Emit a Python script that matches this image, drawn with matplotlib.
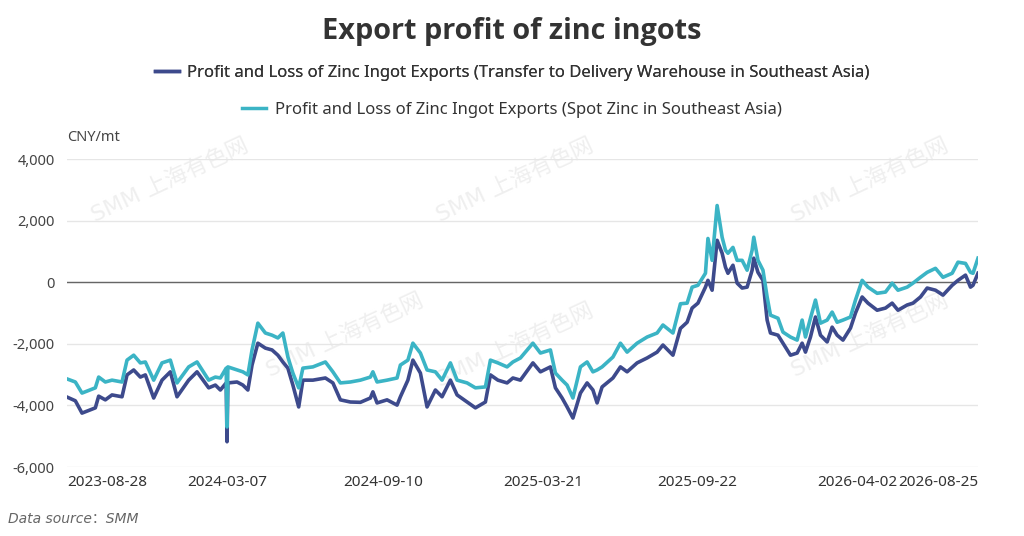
import pandas as pd
import matplotlib
matplotlib.use("Agg")
import matplotlib.pyplot as plt
from matplotlib.lines import Line2D
from matplotlib.ticker import FuncFormatter

plt.rcParams['font.family'] = ['Noto Sans', 'DejaVu Sans', 'Noto Sans CJK SC']

# days since 2023-08-28 for each sampled point
start_date = "2023-08-28"
day_offsets = [0, 10, 18, 34, 38, 46, 54, 66, 72, 80, 88, 94, 104, 114, 124, 132, 146, 156,
               170, 178, 184, 191, 192, 193, 204, 211, 217, 222, 229, 238, 246, 253, 259, 265,
               271, 278, 283, 295, 310, 319, 328, 340, 352, 364, 367, 372, 384, 396, 400, 409,
               415, 424, 432, 442, 450, 460, 468, 480, 490, 502, 508, 517, 528, 535, 544, 559,
               568, 580, 586, 594, 600, 607, 616, 624, 631, 636, 642, 655, 664, 672, 684, 696,
               708, 715, 727, 736, 744, 750, 757, 766, 769, 774, 780, 786, 790, 793, 799, 804,
               810, 816, 822, 824, 829, 835, 840, 844, 853, 859, 868, 876, 882, 886, 892, 898,
               904, 912, 918, 924, 931, 940, 946, 954, 961, 972, 982, 990, 997, 1008, 1015, 1024,
               1032, 1042, 1051, 1062, 1069, 1078, 1084, 1087, 1093]

warehouse = [-3730, -3850, -4250, -4080, -3700, -3820, -3660, -3720, -3010, -2850, -3080, -3010,
             -3760, -3180, -2910, -3720, -3180, -2910, -3430, -3340, -3500, -3270, -5180, -3270,
             -3240, -3340, -3500, -2690, -1980, -2140, -2200, -2370, -2590, -2790, -3340, -4050,
             -3180, -3180, -3110, -3270, -3820, -3890, -3900, -3760, -3560, -3920, -3820, -3990,
             -3720, -3180, -2530, -2950, -4050, -3500, -3720, -3180, -3660, -3890, -4080, -3890,
             -3010, -3180, -3270, -3110, -3180, -2620, -2910, -2750, -3430, -3760, -4050, -4410,
             -3600, -3270, -3500, -3920, -3400, -3110, -2750, -2910, -2620, -2460, -2270, -2040,
             -2370, -1500, -1300, -840, -680, -160, 60, -260, 1360, 940, 490, 290, 550, -30,
             -190, -160, 390, 780, 320, 60, -1230, -1650, -1720, -1980, -2370, -2300, -1980, -2270,
             -1780, -1130, -1720, -1940, -1460, -1720, -1880, -1490, -1000, -480, -680, -910,
             -840, -680, -910, -740, -680, -480, -190, -260, -420, -100, 60, 230, -160, -100, 290]

spot = [-3140, -3240, -3600, -3430, -3080, -3240, -3180, -3240, -2530, -2370, -2620, -2590,
        -3180, -2620, -2530, -3270, -2750, -2590, -3180, -3080, -3110, -2790, -4700, -2750,
        -2850, -2910, -3010, -2200, -1330, -1650, -1720, -1810, -1650, -2430, -2950, -3430,
        -2790, -2750, -2590, -2910, -3270, -3240, -3180, -3080, -2910, -3240, -3180, -3110,
        -2690, -2530, -1980, -2300, -2850, -2910, -3180, -2620, -3180, -3270, -3430, -3400,
        -2530, -2620, -2750, -2590, -2460, -1980, -2300, -2200, -2950, -3180, -3340, -3760,
        -2750, -2590, -2910, -2850, -2750, -2430, -1980, -2270, -1980, -1780, -1650, -1390,
        -1650, -700, -680, -160, -100, 290, 1420, 710, 2490, 1460, 1040, 940, 1130, 710,
        710, 390, 1040, 1460, 710, 390, -480, -1070, -1170, -1620, -1780, -1880, -1230, -1780,
        -1170, -580, -1330, -1230, -970, -1300, -1230, -1130, -580, 60, -160, -360,
        -320, -30, -260, -160, -30, 160, 320, 450, 160, 290, 650, 610, 320, 290, 780]

series_names = ["Profit and Loss of Zinc Ingot Exports (Transfer to Delivery Warehouse in Southeast Asia)",
                "Profit and Loss of Zinc Ingot Exports (Spot Zinc in Southeast Asia)"]
tick_dates = ["2023-08-28", "2024-03-07", "2024-09-10", "2025-03-21",
              "2025-09-22", "2026-04-02", "2026-08-25"]
y_ticks = [-6000, -4000, -2000, 0, 2000, 4000]

dark = "#3d4a8c"
teal = "#3bb4c5"

dates = pd.Timestamp(start_date) + pd.to_timedelta(day_offsets, unit="D")

fig = plt.figure(figsize=(10.24, 5.36), dpi=100)
ax = fig.add_axes([67 / 1024, 1 - 467 / 536, 911 / 1024, 308 / 536])
ax.set_zorder(2)

# watermarks, behind the plot
for wx, wy in [(170, 180), (515, 180), (870, 180), (345, 335), (515, 345), (870, 335)]:
    fig.text(wx / 1024, 1 - wy / 536, "SMM 上海有色网", rotation=25, color="#efefef",
             fontsize=16, ha="center", va="center", zorder=0,
             family=["DejaVu Sans", "Noto Sans CJK SC"])

ax.plot(dates, warehouse, color=dark, lw=2.6, zorder=3)
ax.plot(dates, spot, color=teal, lw=2.6, zorder=4)

ax.set_ylim(-6000, 4000)
ax.set_xlim(dates[0], dates[-1])
ax.set_yticks(y_ticks)
ax.yaxis.set_major_formatter(FuncFormatter(lambda v, p: f"{int(v):,}"))
ax.grid(axis="y", color="#e6e6e6", lw=1)
ax.axhline(0, color="#666666", lw=1, zorder=2)
ax.set_facecolor("none")
for s in ax.spines.values():
    s.set_visible(False)
ax.tick_params(axis="y", length=0, pad=9, labelsize=10.5, labelcolor="#444444")
ax.tick_params(axis="x", length=0, pad=6, labelsize=11, labelcolor="#333333")

ax.set_xticks(pd.to_datetime(tick_dates))
ax.set_xticklabels(tick_dates)
labels = ax.get_xticklabels()
labels[0].set_ha("left")
labels[-1].set_ha("right")

ax.text(0, 1.07, "CNY/mt", transform=ax.transAxes, fontsize=10.5, color="#444444",
        ha="left", va="center")

fig.text(0.5, 1 - 31 / 536, "Export profit of zinc ingots", ha="center", va="center",
         fontsize=20.8, fontweight="bold", color="#333333", family=["Open Sans", "DejaVu Sans"])

leg1 = fig.legend([Line2D([], [], color=dark, lw=2.5)], [series_names[0]],
                  loc="center", bbox_to_anchor=(0.5, 1 - 73 / 536), frameon=False,
                  fontsize=12, handlelength=1.45, handletextpad=0.5, labelcolor="#333333")
fig.add_artist(leg1)
fig.legend([Line2D([], [], color=teal, lw=2.5)], [series_names[1]],
           loc="center", bbox_to_anchor=(0.5, 1 - 110 / 536), frameon=False,
           fontsize=12, handlelength=1.45, handletextpad=0.5, labelcolor="#333333")

fig.text(8 / 1024, 1 - 519 / 536, "Data source：SMM", ha="left", va="center",
         fontsize=10, style="italic", color="#666666",
         family=["DejaVu Sans", "Noto Sans CJK SC"])

fig.savefig("out.png", dpi=100)
